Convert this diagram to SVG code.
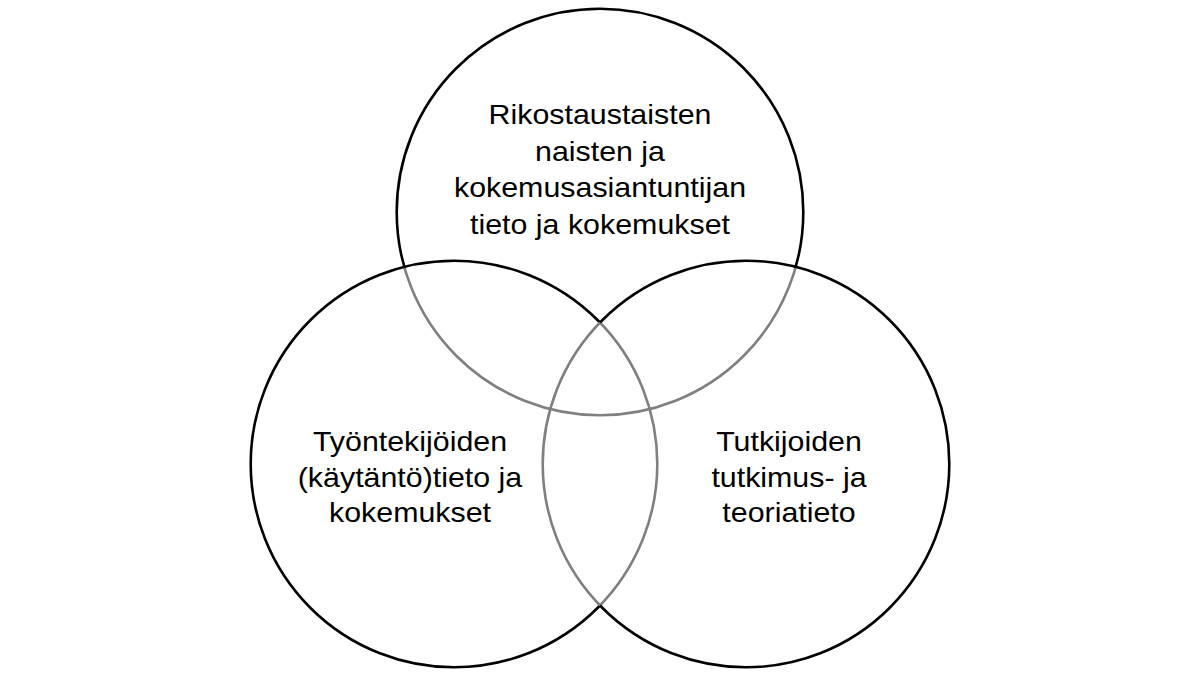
<svg xmlns="http://www.w3.org/2000/svg" width="1200" height="675" viewBox="0 0 1200 675">
  <style>
    .ring { fill: none; stroke: #000; stroke-width: 2.6; }
    .ring.dim { stroke: #808080; }
    .label { font-family: "Liberation Sans", Arial, sans-serif; font-size: 28px; fill: #000; text-anchor: middle; }
  </style>
  <defs>
    <mask id="mTop" maskUnits="userSpaceOnUse" x="0" y="0" width="1200" height="675">
      <rect x="0" y="0" width="1200" height="675" fill="#fff"/>
      <circle cx="454" cy="464" r="203.3" fill="#000"/>
      <circle cx="746" cy="464" r="203.3" fill="#000"/>
    </mask>
    <clipPath id="cTop">
      <circle cx="454" cy="464" r="203.3"/>
      <circle cx="746" cy="464" r="203.3"/>
    </clipPath>
    <mask id="mLeft" maskUnits="userSpaceOnUse" x="0" y="0" width="1200" height="675">
      <rect x="0" y="0" width="1200" height="675" fill="#fff"/>
      <circle cx="746" cy="464" r="203.3" fill="#000"/>
    </mask>
    <clipPath id="cLeft">
      <circle cx="746" cy="464" r="203.3"/>
    </clipPath>
    <mask id="mRight" maskUnits="userSpaceOnUse" x="0" y="0" width="1200" height="675">
      <rect x="0" y="0" width="1200" height="675" fill="#fff"/>
      <circle cx="454" cy="464" r="203.3" fill="#000"/>
    </mask>
    <clipPath id="cRight">
      <circle cx="454" cy="464" r="203.3"/>
    </clipPath>
  </defs>
  <rect x="0" y="0" width="1200" height="675" fill="#fff"/>

  <g id="node-top">
    <circle class="ring" cx="600" cy="212" r="203.3" mask="url(#mTop)"/>
    <circle class="ring dim" cx="600" cy="212" r="203.3" clip-path="url(#cTop)"/>
    <g transform="translate(600 0) scale(1.085 1)">
      <text class="label" x="0" y="124.5">Rikostaustaisten</text>
      <text class="label" x="0" y="161">naisten ja</text>
      <text class="label" x="0" y="197.5">kokemusasiantuntijan</text>
      <text class="label" x="0" y="234">tieto ja kokemukset</text>
    </g>
  </g>

  <g id="node-left">
    <circle class="ring" cx="454" cy="464" r="203.3" mask="url(#mLeft)"/>
    <circle class="ring dim" cx="454" cy="464" r="203.3" clip-path="url(#cLeft)"/>
    <g transform="translate(410 0) scale(1.085 1)">
      <text class="label" x="0" y="451">Työntekijöiden</text>
      <text class="label" x="0" y="487">(käytäntö)tieto ja</text>
      <text class="label" x="0" y="522">kokemukset</text>
    </g>
  </g>

  <g id="node-right">
    <circle class="ring" cx="746" cy="464" r="203.3" mask="url(#mRight)"/>
    <circle class="ring dim" cx="746" cy="464" r="203.3" clip-path="url(#cRight)"/>
    <g transform="translate(789 0) scale(1.085 1)">
      <text class="label" x="0" y="451">Tutkijoiden</text>
      <text class="label" x="0" y="487">tutkimus- ja</text>
      <text class="label" x="0" y="522">teoriatieto</text>
    </g>
  </g>
</svg>
